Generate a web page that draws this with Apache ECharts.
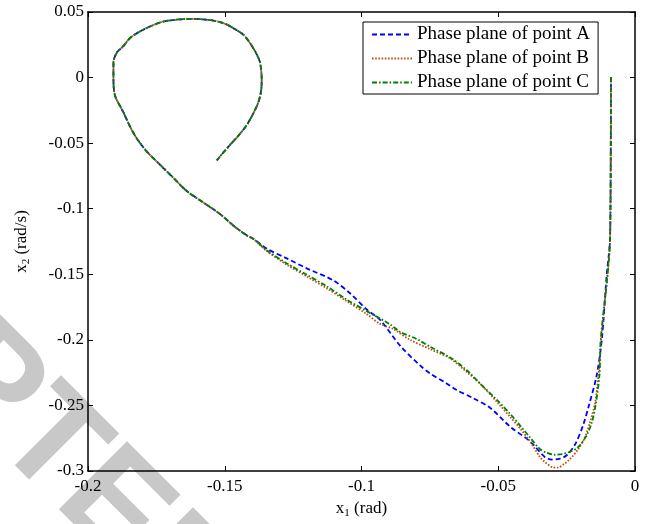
<!DOCTYPE html>
<html>
<head>
<meta charset="utf-8">
<script src="https://cdn.jsdelivr.net/npm/echarts@6/dist/echarts.min.js"></script>
<style>
html,body{margin:0;padding:0;background:#fff;}
#chart{width:651px;height:524px;}
</style>
</head>
<body>
<div id="chart"></div>
<script>
// ---- data ----
const seriesNames = ['Phase plane of point A', 'Phase plane of point B', 'Phase plane of point C'];
const xTickLabels = ['-0.2', '-0.15', '-0.1', '-0.05', '0'];
const yTickLabels = ['-0.3', '-0.25', '-0.2', '-0.15', '-0.1', '-0.05', '0', '0.05'];

// point A (blue dashed), part that differs from the others
const aX = [-0.0088, -0.0091, -0.0104, -0.0121, -0.0140, -0.0168, -0.0189, -0.0219, -0.0250, -0.0274, -0.0303, -0.0329, -0.0384, -0.0457, -0.0530, -0.0591, -0.0652, -0.0689, -0.0750, -0.0786, -0.0859, -0.0932, -0.0981, -0.1042, -0.1103, -0.1200, -0.1273, -0.1347];
const aY = [0.0003, -0.1216, -0.1517, -0.1991, -0.2270, -0.2496, -0.2646, -0.2797, -0.2880, -0.2906, -0.2913, -0.2895, -0.2774, -0.2661, -0.2518, -0.2445, -0.2383, -0.2332, -0.2255, -0.2195, -0.2044, -0.1848, -0.1768, -0.1645, -0.1547, -0.1455, -0.1379, -0.1304];

// point B (brown dotted)
const bX = [-0.0088, -0.0091, -0.0100, -0.0124, -0.0132, -0.0146, -0.0165, -0.0183, -0.0208, -0.0238, -0.0260, -0.0282, -0.0303, -0.0329, -0.0347, -0.0384, -0.0420, -0.0457, -0.0505, -0.0567, -0.0615, -0.0676, -0.0750, -0.0823, -0.0885, -0.0932, -0.0981, -0.1054, -0.1127, -0.1200, -0.1273, -0.1347];
const bY = [0.0003, -0.1216, -0.1495, -0.1991, -0.2232, -0.2481, -0.2631, -0.2744, -0.2834, -0.2910, -0.2947, -0.2974, -0.2970, -0.2932, -0.2895, -0.2774, -0.2676, -0.2586, -0.2473, -0.2332, -0.2245, -0.2142, -0.2070, -0.1999, -0.1916, -0.1878, -0.1803, -0.1705, -0.1607, -0.1517, -0.1427, -0.1322];

// point C (green dash-dot)
const cX = [-0.0088, -0.0091, -0.0100, -0.0125, -0.0130, -0.0144, -0.0158, -0.0179, -0.0208, -0.0238, -0.0267, -0.0293, -0.0323, -0.0347, -0.0384, -0.0420, -0.0457, -0.0505, -0.0567, -0.0615, -0.0676, -0.0750, -0.0798, -0.0859, -0.0896, -0.0981, -0.1054, -0.1127, -0.1200, -0.1273, -0.1347];
const cY = [0.0003, -0.1216, -0.1495, -0.1991, -0.2270, -0.2496, -0.2631, -0.2736, -0.2819, -0.2853, -0.2872, -0.2876, -0.2861, -0.2834, -0.2744, -0.2654, -0.2563, -0.2458, -0.2332, -0.2232, -0.2134, -0.2052, -0.1994, -0.1939, -0.1881, -0.1781, -0.1693, -0.1592, -0.1504, -0.1417, -0.1316];

// common part of all three trajectories (descent to the left and the loop)
const sharedX = [-0.1396, -0.1420, -0.1469, -0.1517, -0.1578, -0.1639, -0.1688, -0.1737, -0.1785, -0.1822, -0.1846, -0.1871, -0.1901, -0.1907, -0.1907, -0.1895, -0.1871, -0.1846, -0.1810, -0.1767, -0.1725, -0.1682, -0.1639, -0.1590, -0.1542, -0.1499, -0.1469, -0.1432, -0.1408, -0.1386, -0.1371, -0.1365, -0.1367, -0.1377, -0.1396, -0.1420, -0.1450, -0.1481, -0.1505, -0.1529];
const sharedY = [-0.1229, -0.1203, -0.1128, -0.1041, -0.0953, -0.0865, -0.0764, -0.0664, -0.0564, -0.0463, -0.0375, -0.0263, -0.0138, -0.0012, 0.0114, 0.0189, 0.0239, 0.0302, 0.0352, 0.0395, 0.0427, 0.0440, 0.0447, 0.0445, 0.0435, 0.0410, 0.0377, 0.0327, 0.0264, 0.0189, 0.0114, -0.0012, -0.0100, -0.0187, -0.0275, -0.0363, -0.0443, -0.0514, -0.0571, -0.0631];

function pairs(xs, ys) {
  const out = [];
  for (let i = 0; i < xs.length; i++) out.push([xs[i], ys[i]]);
  for (let i = 0; i < sharedX.length; i++) out.push([sharedX[i], sharedY[i]]);
  return out;
}

const serif = 'Liberation Serif';
const chart = echarts.init(document.getElementById('chart'), null, {renderer: 'canvas'});

const axisCommon = {
  axisLine: {show: true, onZero: false, lineStyle: {color: '#000', width: 1.5}},
  axisTick: {show: true, inside: true, length: 5, lineStyle: {color: '#000', width: 1}},
  splitLine: {show: false}
};

const option = {
  backgroundColor: '#fff',
  animation: false,
  graphic: [{
    type: 'text',
    x: 217, y: 613,
    rotation: -Math.PI / 4,
    z: -10,
    silent: true,
    style: {
      text: 'ACCEPTED',
      fill: '#c8c8c8',
      font: 'bold 140px "Liberation Sans"',
      align: 'right',
      verticalAlign: 'middle'
    }
  }],
  grid: {left: 88, right: 16, top: 12, bottom: 47, containLabel: false},
  legend: {
    orient: 'vertical',
    left: 363, top: 22,
    padding: [3, 8, 2, 8],
    itemWidth: 40, itemHeight: 16, itemGap: 5,
    backgroundColor: '#fff',
    borderColor: '#000', borderWidth: 1,
    itemStyle: {opacity: 0},
    textStyle: {fontFamily: serif, fontSize: 19, lineHeight: 18, color: '#000'},
    data: seriesNames
  },
  xAxis: [Object.assign({
    type: 'value', min: -0.2, max: 0, interval: 0.05, position: 'bottom',
    name: '{n|x}{s|1}{n| (rad)}', nameLocation: 'middle', nameGap: 28,
    nameTextStyle: {rich: {
      n: {fontFamily: serif, fontSize: 17, color: '#000'},
      s: {fontFamily: serif, fontSize: 11, color: '#000', padding: [9, 0, 0, 0]}
    }},
    axisLabel: {fontFamily: serif, fontSize: 17, color: '#000', margin: 7,
      formatter: v => xTickLabels[Math.round((v + 0.2) / 0.05)]}
  }, axisCommon), Object.assign({
    type: 'value', min: -0.2, max: 0, interval: 0.05, position: 'top',
    axisLabel: {show: false}
  }, axisCommon)],
  yAxis: [Object.assign({
    type: 'value', min: -0.3, max: 0.05, interval: 0.05, position: 'left',
    name: '{n|x}{s|2}{n| (rad/s)}', nameLocation: 'middle', nameGap: 56,
    nameRotate: 90,
    nameTextStyle: {rich: {
      n: {fontFamily: serif, fontSize: 17, color: '#000'},
      s: {fontFamily: serif, fontSize: 11, color: '#000', padding: [9, 0, 0, 0]}
    }},
    axisLabel: {fontFamily: serif, fontSize: 17, color: '#000', margin: 4,
      formatter: v => yTickLabels[Math.round((v + 0.3) / 0.05)]}
  }, axisCommon), Object.assign({
    type: 'value', min: -0.3, max: 0.05, interval: 0.05, position: 'right',
    axisLabel: {show: false}
  }, axisCommon)],
  series: [
    {name: seriesNames[0], type: 'line', data: pairs(aX, aY), showSymbol: false, symbol: 'none', smooth: 0.3,
      lineStyle: {color: '#0000ff', width: 1.8, type: [5, 3]}, itemStyle: {color: '#0000ff'}, z: 3},
    {name: seriesNames[1], type: 'line', data: pairs(bX, bY), showSymbol: false, symbol: 'none', smooth: 0.3,
      lineStyle: {color: '#c0501a', width: 1.8, type: [1.6, 1.6]}, itemStyle: {color: '#c0501a'}, z: 4},
    {name: seriesNames[2], type: 'line', data: pairs(cX, cY), showSymbol: false, symbol: 'none', smooth: 0.3,
      lineStyle: {color: '#008000', width: 1.8, type: [5, 2, 1.6, 2]}, itemStyle: {color: '#008000'}, z: 5}
  ]
};
chart.setOption(option);
</script>
</body>
</html>
